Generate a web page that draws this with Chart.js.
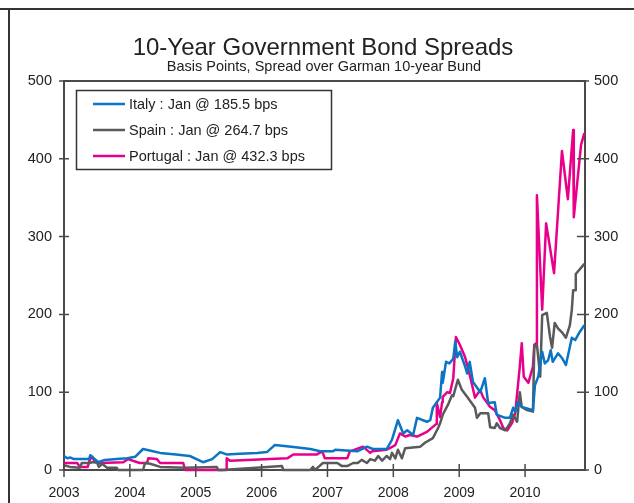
<!DOCTYPE html>
<html><head><meta charset="utf-8">
<script src="https://cdn.jsdelivr.net/npm/chart.js@4/dist/chart.umd.min.js"></script>
<style>html,body{margin:0;padding:0;background:#fff;}#wrap{position:relative;width:634px;height:503px;}</style>
</head><body><div id="wrap"><canvas id="c" width="634" height="503"></canvas></div>
<script>
const titleText = "10-Year Government Bond Spreads";
const subtitleText = "Basis Points, Spread over Garman 10-year Bund";
const seriesLabels = ["Italy : Jan @ 185.5 bps", "Spain : Jan @ 264.7 bps", "Portugal : Jan @ 432.3 bps"];
const seriesColors = ["#0b74c4", "#5a5a5a", "#e8008a"];
const yearTicks = [2003, 2004, 2005, 2006, 2007, 2008, 2009, 2010];
const yTickValues = [0, 100, 200, 300, 400, 500];

const italyX = [2003.00,2003.05,2003.10,2003.15,2003.38,2003.40,2003.52,2003.62,2003.80,2003.96,2004.08,2004.20,2004.30,2004.46,2004.70,2004.91,2005.11,2005.25,2005.37,2005.47,2005.67,2005.93,2006.08,2006.20,2006.45,2006.74,2006.89,2007.08,2007.12,2007.45,2007.60,2007.69,2007.90,2007.98,2008.07,2008.15,2008.21,2008.30,2008.36,2008.51,2008.56,2008.60,2008.71,2008.74,2008.75,2008.80,2008.85,2008.91,2008.94,2008.97,2009.01,2009.09,2009.12,2009.16,2009.21,2009.32,2009.39,2009.44,2009.54,2009.57,2009.70,2009.77,2009.82,2009.85,2009.89,2009.95,2010.12,2010.15,2010.20,2010.26,2010.30,2010.35,2010.39,2010.42,2010.50,2010.56,2010.62,2010.68,2010.71,2010.76,2010.82,2010.90];
const italyY = [18,15,16,14,14,19,10,13,14,15,17,27,25,22,20,18,10,14,23,20,21,22,23,32,30,27,24,24,26,24,30,27,27,39,64,47,51,45,67,62,64,80,93,126,112,139,137,143,165,145,152,133,124,139,113,100,118,86,87,71,67,67,80,75,87,81,77,109,120,152,137,141,154,139,150,144,135,158,170,167,176,186];

const spainX = [2003.00,2003.09,2003.24,2003.27,2003.38,2003.43,2003.50,2003.53,2003.58,2003.65,2003.80,2003.82,2004.20,2004.23,2004.31,2004.46,2004.84,2005.32,2005.34,2005.40,2006.31,2006.33,2006.74,2006.78,2006.81,2006.89,2006.93,2007.15,2007.22,2007.30,2007.39,2007.46,2007.52,2007.60,2007.65,2007.72,2007.77,2007.83,2007.90,2007.95,2007.98,2008.03,2008.07,2008.13,2008.18,2008.41,2008.48,2008.60,2008.68,2008.71,2008.75,2008.83,2008.89,2008.91,2008.98,2009.04,2009.12,2009.24,2009.27,2009.32,2009.44,2009.47,2009.54,2009.57,2009.62,2009.70,2009.77,2009.82,2009.88,2009.92,2009.95,2010.03,2010.12,2010.14,2010.18,2010.23,2010.26,2010.33,2010.38,2010.41,2010.45,2010.50,2010.56,2010.62,2010.68,2010.71,2010.73,2010.76,2010.77,2010.90];
const spainY = [6,4,3,9,9,10,10,4,8,3,3,0,0,9,8,4,3,4,0,0,5,0,0,4,0,6,9,9,5,5,9,9,13,9,14,12,18,12,18,14,22,15,26,15,28,30,35,41,54,60,71,84,96,95,116,103,94,80,67,73,73,55,54,60,54,51,60,71,62,100,81,77,75,158,161,120,199,202,171,157,189,182,177,170,186,206,231,231,252,265];

const portugalX = [2003.00,2003.20,2003.24,2003.36,2003.39,2003.43,2003.47,2003.55,2003.90,2003.97,2004.15,2004.26,2004.28,2004.41,2004.46,2004.81,2004.84,2005.46,2005.47,2005.52,2006.39,2006.48,2006.84,2006.92,2006.96,2007.30,2007.34,2007.54,2007.65,2007.68,2007.90,2008.03,2008.10,2008.18,2008.25,2008.36,2008.51,2008.65,2008.66,2008.71,2008.74,2008.75,2008.82,2008.86,2008.91,2008.95,2009.01,2009.09,2009.16,2009.24,2009.32,2009.36,2009.47,2009.54,2009.62,2009.67,2009.73,2009.80,2009.85,2009.92,2009.95,2009.98,2010.05,2010.12,2010.14,2010.17,2010.18,2010.26,2010.32,2010.44,2010.56,2010.65,2010.73,2010.74,2010.85,2010.90];
const portugalY = [9,9,4,4,13,17,10,9,10,14,9,9,15,14,9,9,0,0,15,12,15,20,20,24,15,15,24,30,22,24,26,32,47,43,45,43,49,59,86,68,87,94,100,99,118,171,161,145,122,93,103,94,81,77,64,54,51,60,73,133,163,120,112,133,161,163,353,206,317,253,410,348,437,325,418,433];

const FONT = '"Liberation Sans", Arial, Helvetica, sans-serif';
const TXT = '#222';
const AX = '#4a4a4a';

function pts(xs, ys) { return xs.map((x, i) => ({ x: x, y: ys[i] })); }

const decorPlugin = {
  id: 'decor',
  afterDraw(chart) {
    const ctx = chart.ctx;
    const a = chart.chartArea;
    const sx = chart.scales.x, sy = chart.scales.y, sy2 = chart.scales.y2;
    ctx.save();
    ctx.strokeStyle = '#333';
    ctx.lineWidth = 2;
    ctx.beginPath();
    ctx.moveTo(0, 9); ctx.lineTo(634, 9);
    ctx.moveTo(9, 9); ctx.lineTo(9, 503);
    ctx.stroke();
    ctx.strokeStyle = AX;
    ctx.lineWidth = 2;
    ctx.beginPath();
    ctx.moveTo(a.left, a.top); ctx.lineTo(a.right, a.top);
    ctx.stroke();
    ctx.lineWidth = 1.5;
    ctx.beginPath();
    yTickValues.forEach(v => {
      const py = sy.getPixelForValue(v);
      ctx.moveTo(a.left - 5, py); ctx.lineTo(a.left + 5, py);
      const py2 = sy2.getPixelForValue(v);
      ctx.moveTo(a.right - 8, py2); ctx.lineTo(a.right + 4, py2);
    });
    yearTicks.forEach(v => {
      const px = sx.getPixelForValue(v);
      ctx.moveTo(px, a.bottom - 6); ctx.lineTo(px, a.bottom + 7);
    });
    ctx.stroke();
    ctx.fillStyle = TXT;
    ctx.textAlign = 'center';
    ctx.textBaseline = 'alphabetic';
    ctx.font = '24px ' + FONT;
    ctx.fillText(titleText, 323, 55);
    ctx.font = '14.5px ' + FONT;
    ctx.fillText(subtitleText, 324, 71);
    ctx.fillStyle = '#fff';
    ctx.fillRect(77, 91, 254, 78);
    ctx.strokeStyle = '#333';
    ctx.lineWidth = 1.5;
    ctx.strokeRect(76.5, 90.5, 255, 79);
    const rows = [104, 130, 156];
    chart.data.datasets.forEach((ds, i) => {
      ctx.strokeStyle = ds.borderColor;
      ctx.lineWidth = 2.5;
      ctx.beginPath();
      ctx.moveTo(93, rows[i]); ctx.lineTo(125, rows[i]);
      ctx.stroke();
      ctx.fillStyle = TXT;
      ctx.textAlign = 'left';
      ctx.textBaseline = 'middle';
      ctx.font = '14.5px ' + FONT;
      ctx.fillText(ds.label, 129, rows[i] + 1);
    });
    ctx.restore();
  }
};

const commonY = {
  type: 'linear', min: 0, max: 500,
  grid: { display: false, drawTicks: false },
  border: { display: true, color: AX, width: 2 },
};

new Chart(document.getElementById('c'), {
  type: 'line',
  data: {
    datasets: [
      { label: seriesLabels[0], data: pts(italyX, italyY), borderColor: seriesColors[0] },
      { label: seriesLabels[1], data: pts(spainX, spainY), borderColor: seriesColors[1] },
      { label: seriesLabels[2], data: pts(portugalX, portugalY), borderColor: seriesColors[2] }
    ].map(d => Object.assign(d, { borderWidth: 2.5, pointRadius: 0, tension: 0, fill: false, clip: 4, borderJoinStyle: 'round' }))
  },
  options: {
    responsive: false,
    devicePixelRatio: 1,
    animation: false,
    layout: { padding: { top: 81, left: 0, right: 0, bottom: 0 } },
    plugins: { legend: { display: false }, tooltip: { enabled: false }, title: { display: false } },
    scales: {
      x: {
        type: 'linear', position: 'bottom', min: 2003, max: 2010.91,
        grid: { display: false, drawTicks: false },
        border: { display: true, color: AX, width: 2 },
        afterBuildTicks: s => { s.ticks = yearTicks.map(v => ({ value: v })); },
        afterFit: s => { s.height = 33; },
        ticks: { font: { family: FONT, size: 14 }, color: TXT, padding: 15, autoSkip: false, maxRotation: 0, callback: v => String(v) }
      },
      y: Object.assign({}, commonY, {
        position: 'left',
        afterFit: s => { s.width = 64; },
        ticks: { stepSize: 100, font: { family: FONT, size: 14.5 }, color: TXT, padding: 12 }
      }),
      y2: Object.assign({}, commonY, {
        position: 'right',
        afterFit: s => { s.width = 49; },
        ticks: { stepSize: 100, font: { family: FONT, size: 14.5 }, color: TXT, padding: 9 }
      })
    }
  },
  plugins: [decorPlugin]
});
</script></body></html>
